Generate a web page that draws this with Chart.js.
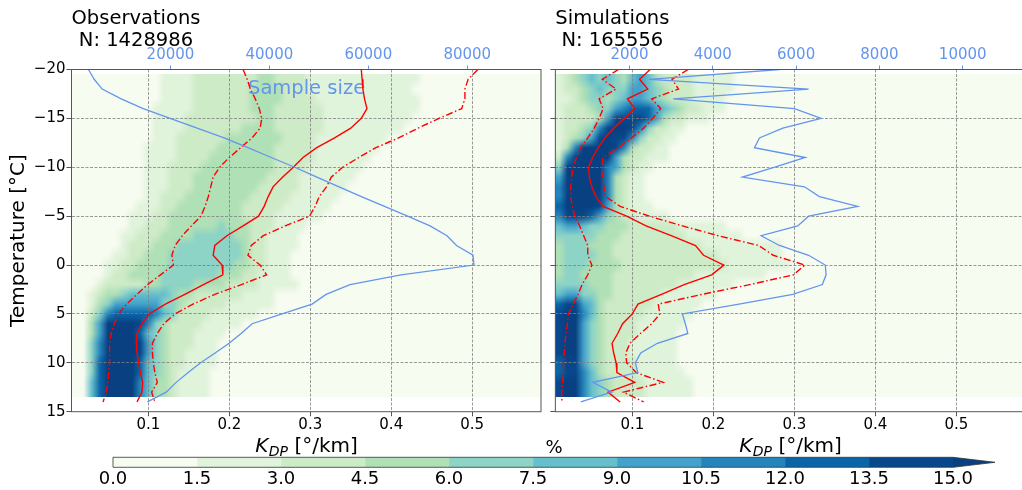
<!DOCTYPE html>
<html>
<head>
<meta charset="utf-8">
<title>KDP CFAD</title>
<script src="https://cdn.jsdelivr.net/npm/chart.js@4.4.1/dist/chart.umd.min.js"></script>
<style>
  html, body { margin: 0; padding: 0; background: #fff; overflow: hidden; }
  #fig { position: relative; width: 1022px; height: 490px; overflow: hidden; }
  #fig canvas { position: absolute; }
</style>
</head>
<body>
<div id="fig">
  <canvas id="obs" width="548" height="490" style="left:0px;top:0px"></canvas>
  <canvas id="sim" width="480" height="490" style="left:548px;top:0px"></canvas>
  <canvas id="cbar" width="942" height="50" style="left:80px;top:440px"></canvas>
</div>
<script>
// temperature levels of the profiles [deg C]
var temps = [-20, -19, -18, -17, -16, -15, -14, -13, -12, -11, -10, -9, -8, -7, -6, -5, -4, -3, -2,
             -1, 0, 1, 2, 3, 4, 5, 6, 7, 8, 9, 10, 11, 12, 13, 14];

// observations: KDP median / lower / upper quantile [deg/km], sample size
var obsMedian = [0.363, 0.364, 0.365, 0.367, 0.370, 0.363, 0.350, 0.330, 0.308, 0.291, 0.279, 0.266,
                 0.254, 0.248, 0.243, 0.236, 0.217, 0.197, 0.182, 0.180, 0.191, 0.192, 0.168, 0.145,
                 0.121, 0.101, 0.092, 0.086, 0.085, 0.086, 0.088, 0.090, 0.093, 0.092, 0.086];
var obsLow = [0.217, 0.222, 0.226, 0.232, 0.237, 0.240, 0.238, 0.228, 0.214, 0.200, 0.188, 0.180,
              0.177, 0.174, 0.170, 0.165, 0.153, 0.142, 0.133, 0.129, 0.131, 0.115, 0.099, 0.086,
              0.073, 0.063, 0.058, 0.054, 0.052, 0.052, 0.052, 0.051, 0.050, 0.048, 0.044];
var obsHigh = [0.507, 0.495, 0.491, 0.491, 0.487, 0.459, 0.433, 0.409, 0.381, 0.360, 0.340, 0.326,
               0.320, 0.311, 0.306, 0.299, 0.269, 0.242, 0.227, 0.223, 0.238, 0.246, 0.215, 0.182,
               0.155, 0.133, 0.119, 0.111, 0.105, 0.105, 0.106, 0.108, 0.111, 0.104, 0.108];
var obsCount = [3430, 4590, 6200, 10040, 14490, 19940, 25390, 30850, 35660, 40380, 45130, 49600,
                54080, 58590, 63270, 67940, 72470, 75900, 77820, 81150, 81350, 66610, 56300, 51460,
                48630, 42570, 36510, 34280, 31860, 29030, 26100, 23580, 21150, 19130, 15350];

// simulations
var simMedian = [0.122, 0.109, 0.119, 0.094, 0.103, 0.090, 0.077, 0.066, 0.058, 0.051, 0.046, 0.047,
                 0.050, 0.055, 0.064, 0.093, 0.117, 0.148, 0.178, 0.188, 0.213, 0.198, 0.164, 0.136,
                 0.107, 0.100, 0.088, 0.082, 0.075, 0.077, 0.080, 0.081, 0.103, 0.070, 0.085];
var simLow = [0.083, 0.063, 0.080, 0.059, 0.064, 0.059, 0.053, 0.045, 0.036, 0.031, 0.027, 0.025,
              0.024, 0.024, 0.026, 0.029, 0.035, 0.040, 0.045, 0.045, 0.050, 0.045, 0.038, 0.033,
              0.027, 0.021, 0.020, 0.018, 0.017, 0.016, 0.015, 0.015, 0.014, 0.013, 0.013];
var simHigh = [0.169, 0.149, 0.157, 0.124, 0.135, 0.125, 0.114, 0.099, 0.083, 0.064, 0.062, 0.063,
               0.065, 0.067, 0.085, 0.121, 0.162, 0.206, 0.256, 0.274, 0.313, 0.299, 0.245, 0.186,
               0.132, 0.134, 0.124, 0.110, 0.097, 0.092, 0.093, 0.105, 0.138, 0.089, 0.114];
var simCount = [5600, 2470, 6300, 3050, 5960, 6600, 5680, 5120, 5000, 6220, 5470, 4710,
                6200, 6560, 7480, 6300, 6040, 5160, 5600, 6300, 6700, 6720, 6630, 5920,
                4630, 3270, 3340, 3400, 2670, 2270, 2140, 2200, 1120, 1570, 830];

// CFAD frequency class per cell (0-9, A = above 15 %), rows -19 .. 13 degC,
// columns 0.01 deg/km wide starting at 0.005; missing columns are class 0
var obsHeat = [
  "0000000000 0111122222 2223322221 1111111111 111",
  "0000000000 0111122222 2233332221 1111111111 11",
  "0000000000 0111122222 2233332222 1111111111 111",
  "0000000000 1111122222 2233322222 2111111111 111",
  "0000000000 1111222222 2223322222 2111111111 11",
  "0000000000 1111222222 2333322222 2111111111 1",
  "0000000000 1112222223 3333332222 1111111110",
  "0000000001 1112222233 3333322222 1111111100",
  "0000000001 1112222333 3333322222 1111111000",
  "0000000001 1122223333 3333322221 1111110000",
  "0000000001 1122233333 3333222211 1111100000",
  "0000000001 1122233333 3332222211 1111000000",
  "0000000001 1222333333 3322222111 1110000000",
  "0000000011 1223333333 3222221111 1100000000",
  "0000000111 2233333333 3222211111 1000000000",
  "0000000112 2233333343 3322211110",
  "0000001122 2333344444 3322111100",
  "0000001222 3334444444 4322111100",
  "0000011223 3344444444 4322111000",
  "0000112233 3344444444 3322111000",
  "0000122333 3444444433 3221111000",
  "0001222223 3444433332 2221111100",
  "0012334555 5543322222 2111100000",
  "0013466666 6443222221 1111100000",
  "0024788888 7542222111 1110000000",
  "0036AAAA97 4322221111 1000000000",
  "0036AAAA85 4322211110",
  "0047AAAA96 4322211100",
  "0047AAAA96 4322111100",
  "0048AAAA85 4322111100",
  "0048AAAA85 4321111000",
  "0058AAAA75 3321111000",
  "0058AAAA75 3321111000"
];
var simHeat = [
  "1234545435 6532222111 11",
  "1223454446 6543222111 11",
  "1123443456 6543222111 1",
  "1222344678 8865432211 1",
  "1222236999 9863221110",
  "1223479AA9 7422110000",
  "123469A997 4221100000",
  "137AAAA973 2211000000",
  "27AAAAA632 2111000000",
  "4AAAAA7632 1100000000",
  "6AAAAA7321 1000000000",
  "7AAAAA7321 1000000000",
  "7AAAA97321 1000000000",
  "8AAAA96321 1100000000",
  "7999864322 1111000000",
  "5665443332 2222211111 1",
  "4444433322 2222221111 111",
  "3444333222 2222222211 11111111",
  "3444433222 2222222222 11111111",
  "3444333322 2222222222 211111111",
  "3443333222 2222222111 111111",
  "4444333222 2222211111 11",
  "5664433222 2221111111",
  "8996532222 2211111100",
  "9AA7532222 2111111000",
  "9AA6432222 1111110000",
  "9AA6432222 1111100000",
  "9AA6432221 1111100000",
  "9AA6432221 1111100000",
  "8996432222 1111100000",
  "8997532222 1111110000",
  "9AA7543222 2111111000",
  "9AA7543222 2111111000"
];

var kdpRange = [0.005, 0.585];
var kdpBinWidth = 0.01;
var heatTempRange = [-19.5, 13.5];
var kdpTicks = [0.1, 0.2, 0.3, 0.4, 0.5];
var tempTicks = [-20, -15, -10, -5, 0, 5, 10, 15];
var obsCountTicks = [20000, 40000, 60000, 80000];
var simCountTicks = [2000, 4000, 6000, 8000, 10000];
var obsCountRange = [0, 94900];
var simCountRange = [220, 11500];

// colour classes of the colour bar (% of samples)
var cbarBounds = [0, 1.5, 3, 4.5, 6, 7.5, 9, 10.5, 12, 13.5, 15];
var levelColors = ['#f7fcf0', '#e0f3db', '#cdebc6', '#b0e0b6', '#8dd3c6', '#66bfcc',
                   '#42a2cb', '#2485bc', '#0a65a8', '#08478b', '#084081'];

var FONT = "'DejaVu Sans', sans-serif";
var BLUE = '#6495ed';
var RED = '#ff0000';
var GRID = '#808080';
var SPINE = '#555555';
var DASHDOT = [7, 2.5, 1.5, 2.5];

Chart.defaults.font.family = FONT;
Chart.defaults.color = '#000';

function fmtTemp(v) {
	return v < 0 ? '\u2212' + (-v) : String(v);
}

function hexRgb(h) {
	return [parseInt(h.substr(1, 2), 16), parseInt(h.substr(3, 2), 16), parseInt(h.substr(5, 2), 16)];
}

// paint the class grid into a w x h image, blending neighbouring cell colours
function smoothImage(heat, w, h) {
	var cols = Math.round((kdpRange[1] - kdpRange[0]) / kdpBinWidth);
	var rows = heat.length;
	var rgb = levelColors.map(hexRgb);
	var grid = heat.map(function(s) {
		s = s.replace(/ /g, '');
		var out = [];
		for (var c = 0; c < cols; c++) out.push(rgb[parseInt(s.charAt(c) || '0', 16)]);
		return out;
	});
	var off = document.createElement('canvas');
	off.width = w;
	off.height = h;
	var o = off.getContext('2d');
	var img = o.createImageData(w, h);
	for (var py = 0; py < h; py++) {
		var gy = Math.min(Math.max((py + 0.5) / h * rows - 0.5, 0), rows - 1);
		var r0 = Math.floor(gy), r1 = Math.min(r0 + 1, rows - 1), fy = gy - r0;
		for (var px = 0; px < w; px++) {
			var gx = Math.min(Math.max((px + 0.5) / w * cols - 0.5, 0), cols - 1);
			var c0 = Math.floor(gx), c1 = Math.min(c0 + 1, cols - 1), fx = gx - c0;
			var k = (py * w + px) * 4;
			for (var ch = 0; ch < 3; ch++) {
				var top = grid[r0][c0][ch] * (1 - fx) + grid[r0][c1][ch] * fx;
				var bot = grid[r1][c0][ch] * (1 - fx) + grid[r1][c1][ch] * fx;
				img.data[k + ch] = Math.round(top * (1 - fy) + bot * fy);
			}
			img.data[k + 3] = 255;
		}
	}
	o.putImageData(img, 0, 0);
	return off;
}

function cfadPlugin(p) {
	var cache = null;
	return {
		id: 'cfad_' + p.id,
		beforeDraw: function(chart) {
			var ctx = chart.ctx, a = chart.chartArea;
			var xs = chart.scales.x, ys = chart.scales.y;
			var x0 = xs.getPixelForValue(kdpRange[0]), x1 = xs.getPixelForValue(kdpRange[1]);
			var y0 = ys.getPixelForValue(heatTempRange[0]), y1 = ys.getPixelForValue(heatTempRange[1]);
			var w = Math.round(x1 - x0), h = Math.round(y1 - y0);
			if (!cache || cache.width !== w || cache.height !== h) cache = smoothImage(p.heat, w, h);
			ctx.save();
			ctx.beginPath();
			ctx.rect(a.left, a.top, a.right - a.left, a.bottom - a.top);
			ctx.clip();
			ctx.drawImage(cache, x0, y0, x1 - x0, y1 - y0);
			ctx.restore();
		},
		beforeDatasetsDraw: function(chart) {
			if (!p.note) return;
			var ctx = chart.ctx, a = chart.chartArea;
			ctx.save();
			ctx.font = '19.5px ' + FONT;
			ctx.fillStyle = BLUE;
			ctx.textAlign = 'left';
			ctx.textBaseline = 'alphabetic';
			ctx.fillText(p.note, a.left + 176.5, a.top + 24.5);
			ctx.restore();
		},
		afterDraw: function(chart) {
			var ctx = chart.ctx, a = chart.chartArea;
			ctx.save();
			ctx.strokeStyle = SPINE;
			ctx.lineWidth = 1;
			ctx.strokeRect(a.left, a.top, a.right - a.left, a.bottom - a.top);

			// title: first line flush with the axes, second centred under it
			ctx.fillStyle = '#000';
			ctx.textBaseline = 'alphabetic';
			ctx.font = '19.5px ' + FONT;
			ctx.textAlign = 'left';
			var w = ctx.measureText(p.title[0]).width;
			ctx.fillText(p.title[0], a.left, 23.5);
			ctx.textAlign = 'center';
			ctx.fillText(p.title[1], a.left + w / 2, 45.5);

			// K_DP [deg/km]
			var fK = 'italic 20px ' + FONT, fS = 'italic 14px ' + FONT, fR = '20px ' + FONT;
			var rest = ' [\u00b0/km]';
			ctx.font = fK; var wK = ctx.measureText('K').width;
			ctx.font = fS; var wS = ctx.measureText('DP').width;
			ctx.font = fR; var wR = ctx.measureText(rest).width;
			var sx = (a.left + a.right) / 2 - (wK + wS + wR) / 2, by = 451.5;
			ctx.textAlign = 'left';
			ctx.font = fK; ctx.fillText('K', sx, by);
			ctx.font = fS; ctx.fillText('DP', sx + wK + 0.5, by + 4);
			ctx.font = fR; ctx.fillText(rest, sx + wK + wS + 0.5, by);

			if (p.yLabel) {
				ctx.translate(19, (a.top + a.bottom) / 2);
				ctx.rotate(-Math.PI / 2);
				ctx.textAlign = 'center';
				ctx.textBaseline = 'middle';
				ctx.font = '20px ' + FONT;
				ctx.fillText(p.yLabel, 0, 0);
			}
			ctx.restore();
		}
	};
}

function profile(vals) {
	return vals.map(function(v, i) { return {x: v, y: temps[i]}; });
}

function makePanel(p) {
	var edgeTick = function(c) {
		var v = c.tick ? c.tick.value : null;
		return (v === tempTicks[0] || v === tempTicks[tempTicks.length - 1]) ? 'rgba(0,0,0,0)' : GRID;
	};
	return new Chart(document.getElementById(p.id), {
		type: 'scatter',
		data: {
			datasets: [
				{data: profile(p.count), xAxisID: 'x2', borderColor: BLUE, borderWidth: 1.3,
				 showLine: true, pointRadius: 0},
				{data: profile(p.low), borderColor: RED, borderWidth: 1.4, borderDash: DASHDOT,
				 showLine: true, pointRadius: 0},
				{data: profile(p.high), borderColor: RED, borderWidth: 1.4, borderDash: DASHDOT,
				 showLine: true, pointRadius: 0},
				{data: profile(p.median), borderColor: RED, borderWidth: 1.4,
				 showLine: true, pointRadius: 0}
			]
		},
		options: {
			responsive: false,
			animation: false,
			events: [],
			layout: {padding: {left: 0, right: p.padRight, top: 0, bottom: 0}},
			plugins: {legend: {display: false}, tooltip: {enabled: false}},
			scales: {
				x: {
					type: 'linear', position: 'bottom', min: kdpRange[0], max: kdpRange[1],
					afterBuildTicks: function(s) { s.ticks = kdpTicks.map(function(v) { return {value: v}; }); },
					afterFit: function(s) { s.height = 78.3; },
					ticks: {font: {size: 15}, padding: 0, autoSkip: false, maxRotation: 0,
					        callback: function(v) { return v.toFixed(1); }},
					grid: {color: GRID, lineWidth: 0.8, tickColor: SPINE, tickLength: 4.5, tickWidth: 1},
					border: {display: false, dash: [3, 1.5]}
				},
				x2: {
					type: 'linear', position: 'top', min: p.countRange[0], max: p.countRange[1],
					afterBuildTicks: function(s) { s.ticks = p.countTicks.map(function(v) { return {value: v}; }); },
					afterFit: function(s) { s.height = 69.5; },
					ticks: {font: {size: 15}, color: BLUE, padding: 1, autoSkip: false, maxRotation: 0,
					        callback: function(v) { return String(v); }},
					grid: {drawOnChartArea: false, color: BLUE, tickColor: BLUE, tickLength: 4},
					border: {display: false}
				},
				y: {
					type: 'linear', reverse: true, min: tempTicks[0], max: tempTicks[tempTicks.length - 1],
					afterBuildTicks: function(s) { s.ticks = tempTicks.map(function(v) { return {value: v}; }); },
					afterFit: function(s) { s.width = p.yWidth; },
					ticks: {display: p.yTicks, font: {size: 15}, padding: 1, autoSkip: false,
					        callback: fmtTemp},
					grid: {color: edgeTick, lineWidth: 0.8, tickColor: SPINE, tickLength: 5, tickWidth: 1},
					border: {display: false, dash: [3, 1.5]}
				}
			}
		},
		plugins: [cfadPlugin(p)]
	});
}

makePanel({
	id: 'obs', title: ['Observations', 'N: 1428986'], yLabel: 'Temperature [\u00b0C]', note: 'Sample size',
	heat: obsHeat, median: obsMedian, low: obsLow, high: obsHigh, count: obsCount,
	countTicks: obsCountTicks, countRange: obsCountRange, yWidth: 71.5, yTicks: true, padRight: 7
});
makePanel({
	id: 'sim', title: ['Simulations', 'N: 165556'], yLabel: null, note: null,
	heat: simHeat, median: simMedian, low: simLow, high: simHigh, count: simCount,
	countTicks: simCountTicks, countRange: simCountRange, yWidth: 7.35, yTicks: false, padRight: 2.8
});

// colour bar with the "max" extension arrow
var cbarPlugin = {
	id: 'cbarFrame',
	afterDatasetsDraw: function(chart) {
		var ctx = chart.ctx, a = chart.chartArea, xs = chart.scales.x;
		var x0 = xs.getPixelForValue(cbarBounds[0]);
		var xe = xs.getPixelForValue(cbarBounds[cbarBounds.length - 1]);
		var xt = xs.getPixelForValue(xs.max);
		var mid = (a.top + a.bottom) / 2;
		ctx.save();
		ctx.beginPath();
		ctx.moveTo(xe, a.top); ctx.lineTo(xt, mid); ctx.lineTo(xe, a.bottom); ctx.closePath();
		ctx.fillStyle = levelColors[levelColors.length - 1];
		ctx.fill();
		ctx.beginPath();
		ctx.moveTo(x0, a.top); ctx.lineTo(xe, a.top); ctx.lineTo(xt, mid);
		ctx.lineTo(xe, a.bottom); ctx.lineTo(x0, a.bottom); ctx.closePath();
		ctx.strokeStyle = '#333';
		ctx.lineWidth = 0.8;
		ctx.stroke();
		ctx.fillStyle = '#000';
		ctx.font = '18px ' + FONT;
		ctx.textAlign = 'center';
		ctx.textBaseline = 'alphabetic';
		ctx.fillText('%', (x0 + xt) / 2, 13);
		ctx.restore();
	}
};

new Chart(document.getElementById('cbar'), {
	type: 'bar',
	data: {
		labels: [''],
		datasets: cbarBounds.slice(0, -1).map(function(lo, i) {
			return {data: [[lo, cbarBounds[i + 1]]], backgroundColor: levelColors[i], borderWidth: 0,
			        grouped: false, barPercentage: 1, categoryPercentage: 1};
		})
	},
	options: {
		indexAxis: 'y',
		responsive: false,
		animation: false,
		events: [],
		layout: {padding: {left: 33, right: 27, top: 17.3, bottom: 0}},
		plugins: {legend: {display: false}, tooltip: {enabled: false}},
		scales: {
			x: {
				type: 'linear', min: 0, max: 15.75,
				afterBuildTicks: function(s) { s.ticks = cbarBounds.map(function(v) { return {value: v}; }); },
				afterFit: function(s) { s.height = 22.7; },
				ticks: {font: {size: 18}, padding: 1.4, autoSkip: false, maxRotation: 0,
				        callback: function(v) { return v.toFixed(1); }},
				grid: {display: false, drawTicks: false},
				border: {display: false}
			},
			y: {display: false}
		}
	},
	plugins: [cbarPlugin]
});
</script>
</body>
</html>
